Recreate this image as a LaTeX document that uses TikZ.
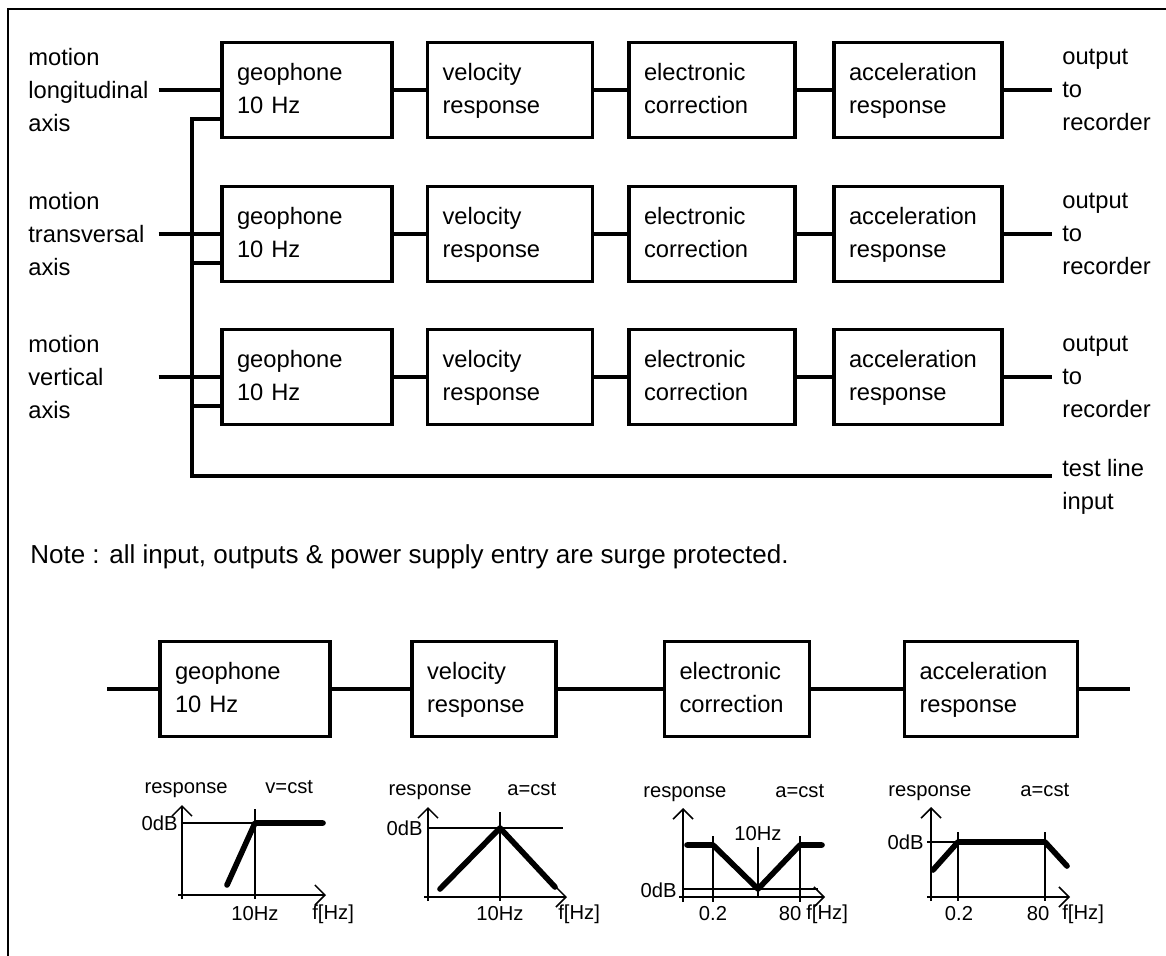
\documentclass[tikz,border=0pt]{standalone}
\usepackage{fontspec}
\setmainfont{Liberation Sans}
\usetikzlibrary{arrows.meta, positioning}
\newcommand{\bigtext}{\fontsize{13.5}{18.8}\selectfont}
\newcommand{\smalltext}{\fontsize{11.5}{14}\selectfont}
\newcommand{\notetext}{\fontsize{14.8}{18}\selectfont}

\begin{document}
\begin{tikzpicture}[x=0.02cm, y=-0.02cm,
  block/.style={draw, line width=2pt, minimum height=1.9cm, text width=#1, inner xsep=0.3cm, align=left, font=\bigtext,
    execute at begin node=\strut, execute at end node=\strut},
  lbl/.style={inner sep=0pt, align=left, font=\bigtext},
  wire/.style={line width=2pt},
  axisline/.style={line width=0.9pt},
  curve/.style={line width=3.2pt, line cap=round, line join=round},
  glabel/.style={inner sep=0pt, font=\smalltext},
  >={Straight Barb[length=2mm]}
]
  \useasboundingbox (0,0) rectangle (1166,956);
  \draw[line width=1.4pt] (8,956) -- (8,9) -- (1166,9);

  \foreach \r/\y/\axis in {1/90/longitudinal, 2/234/transversal, 3/377/vertical} {
    \node[block=2.8cm]  (geo\r) at (307,\y) {geophone\\10 Hz};
    \node[block=2.7cm]  (vel\r) at (510,\y) {velocity\\response};
    \node[block=2.72cm] (ele\r) at (712,\y) {electronic\\correction};
    \node[block=2.76cm] (acc\r) at (918,\y) {acceleration\\response};
    \node[lbl, anchor=west, text width=2.6cm] (in\r) at (28,\y) {motion\\\axis\\axis};
    \node[lbl, anchor=west, inner xsep=0.2cm] (out\r) at (1052,\y) {output\\to\\recorder};
    \coordinate (tap\r) at ([yshift=0.4cm]geo\r.south west);
    \draw[wire] (in\r.east) -- (geo\r);
    \draw[wire] (geo\r) -- (vel\r) -- (ele\r) -- (acc\r) -- (out\r);
  }

  \coordinate (corner) at (192,476);
  \node[lbl, anchor=north west, inner xsep=0.2cm] (tst) at (1052,459) {test line\\input};
  \draw[wire] (tap1) -| (corner) -- (corner -| tst.west);
  \draw[wire] (tap2) -- (tap2 -| corner);
  \draw[wire] (tap3) -- (tap3 -| corner);

  \node[anchor=west, inner sep=0pt, font=\notetext] (note) at (30,557) {Note : all input, outputs \& power supply entry are surge protected.};

  \node[block=2.8cm]  (bgeo) at (245,689) {geophone\\10 Hz};
  \node[block=2.28cm] (bvel) at (484,689) {velocity\\response};
  \node[block=2.3cm]  (bele) at (737,689) {electronic\\correction};
  \node[block=2.86cm] (bacc) at (991,689) {acceleration\\response};
  \coordinate (lin) at (107,689);
  \coordinate (lout) at (1130,689);
  \draw[wire] (lin) -- (bgeo) -- (bvel) -- (bele) -- (bacc) -- (lout);

  \draw[axisline, ->] (178,895) -- (326,895);
  \draw[axisline, ->] (182,899) -- (182,805);
  \draw[axisline] (182,823) -- (255,823);
  \draw[axisline] (255,809) -- (255,899);
  \draw[curve] (227,885) -- (255,823) -- (323,823);
  \node[glabel, anchor=base east] (r1) at (228,793) {response};
  \node[glabel, anchor=base west] (c1) at (265,793) {v=cst};
  \node[glabel, anchor=east] (z1) at (178,823) {0dB};
  \node[glabel] (t1) at (255,914) {10Hz};
  \node[glabel, anchor=west] (f1) at (312,914) {f[Hz]};

  \draw[axisline, ->] (424,897) -- (567,897);
  \draw[axisline, ->] (428,901) -- (428,807);
  \draw[axisline] (428,828) -- (563,828);
  \draw[axisline] (500,812) -- (500,901);
  \draw[curve] (440,889) -- (500,828) -- (555,887);
  \node[glabel, anchor=base east] (r2) at (472,795) {response};
  \node[glabel, anchor=base west] (c2) at (507,795) {a=cst};
  \node[glabel, anchor=east] (z2) at (423,828) {0dB};
  \node[glabel] (t2) at (500,914) {10Hz};
  \node[glabel, anchor=west] (f2) at (558,914) {f[Hz]};

  \draw[axisline, ->] (679,897) -- (825,897);
  \draw[axisline, ->] (683,902) -- (683,808);
  \draw[axisline] (683,889) -- (818,889);
  \draw[axisline] (713,836) -- (713,902);
  \draw[axisline] (758,847) -- (758,897);
  \draw[axisline] (800,836) -- (800,902);
  \draw[curve] (687,845) -- (713,845) -- (758,889) -- (800,845) -- (822,845);
  \node[glabel, anchor=base west] (r3) at (643,797) {response};
  \node[glabel, anchor=base west] (c3) at (775,797) {a=cst};
  \node[glabel] (t3) at (758,834) {10Hz};
  \node[glabel, anchor=east] (z3) at (677,890) {0dB};
  \node[glabel] (p3) at (713,914) {0.2};
  \node[glabel] (e3) at (790,914) {80};
  \node[glabel, anchor=west] (f3) at (806,914) {f[Hz]};

  \draw[axisline, ->] (927,897) -- (1070,897);
  \draw[axisline, ->] (931,901) -- (931,807);
  \draw[axisline] (927,842) -- (1045,842);
  \draw[axisline] (958,832) -- (958,901);
  \draw[axisline] (1045,832) -- (1045,901);
  \draw[curve] (933,870) -- (958,842) -- (1045,842) -- (1067,866);
  \node[glabel, anchor=base west] (r4) at (888,796) {response};
  \node[glabel, anchor=base west] (c4) at (1020,796) {a=cst};
  \node[glabel, anchor=east] (z4) at (924,842) {0dB};
  \node[glabel] (p4) at (959,914) {0.2};
  \node[glabel] (e4) at (1038,914) {80};
  \node[glabel, anchor=west] (f4) at (1062,914) {f[Hz]};
\end{tikzpicture}
\end{document}
